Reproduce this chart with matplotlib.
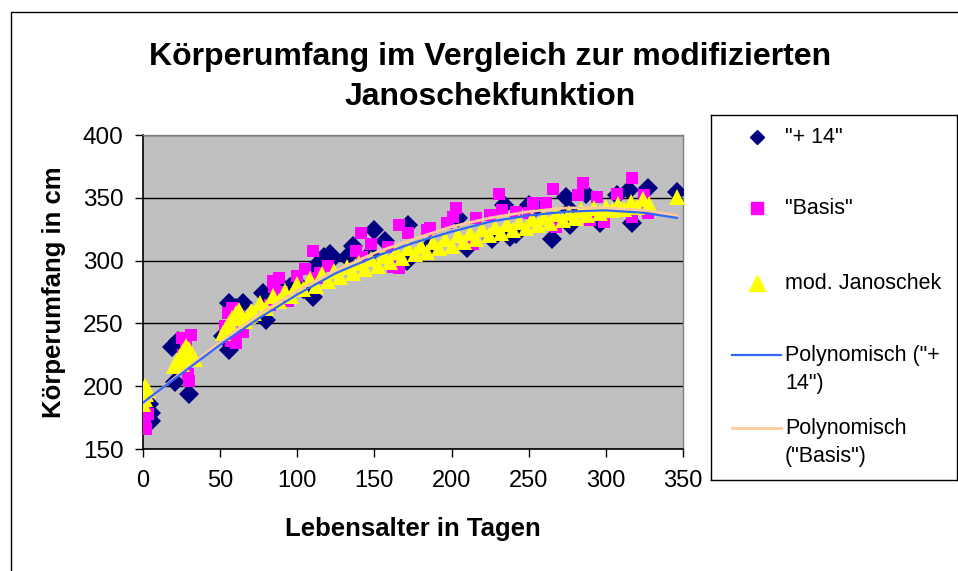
import matplotlib
matplotlib.use("Agg")
import matplotlib.pyplot as plt
from matplotlib.patches import Rectangle

plt.rcParams['font.family'] = ['Liberation Sans', 'DejaVu Sans']

title = "Körperumfang im Vergleich zur modifizierten\nJanoschekfunktion"
xlabel = "Lebensalter in Tagen"
ylabel = "Körperumfang in cm"
xticks = [0, 50, 100, 150, 200, 250, 300, 350]
yticks = [150, 200, 250, 300, 350, 400]

# "+ 14" (navy diamonds)
plus14_x = [4, 5, 5, 1, 19, 21, 30, 23, 56, 65, 56, 60, 52, 78, 80, 88, 95,
            104, 110, 117, 121, 112,
            123, 132, 136, 150, 157, 172, 204, 210, 226, 234, 238, 250, 265,
            274, 277, 287, 296, 315, 327, 317, 346, 307, 147, 171, 186, 242,
            255, 277]
plus14_y = [186, 179, 172, 178, 231, 203, 194, 236, 266, 266, 229, 262, 240,
            274, 253, 281, 279, 277, 271, 303, 305, 296,
            302, 303, 312, 324, 316, 328, 334, 310, 317, 344, 319, 344, 317,
            351, 328, 353, 330, 356, 358, 330, 355, 352, 305, 300, 312, 321,
            343, 340]

# "Basis" (magenta squares)
basis_x = [0, 0, 1, 0, 1, 2, 3, 25, 28, 31, 26, 29, 30, 24, 55, 58, 62, 65, 57,
           60, 53, 84, 88, 85, 90, 82, 94, 110, 105, 115, 113, 120, 100,
           141, 148, 166, 203, 231, 266, 285, 317, 307, 282, 294, 325, 201,
           184, 216, 253, 261, 290, 299, 317, 327, 268, 214, 162, 166, 138,
           142, 159, 172, 186, 197, 225, 233, 242, 250]
basis_y = [198, 190, 182, 175, 170, 166, 178, 238, 233, 241, 225, 210, 204,
           217, 258, 262, 256, 243, 236, 234, 248, 284, 286, 279, 275, 265,
           268, 308, 293, 290, 286, 296, 288,
           322, 313, 328, 342, 353, 357, 362, 366, 353, 352, 351, 352, 335,
           324, 334, 346, 346, 332, 331, 335, 338, 327, 313, 295, 294, 308,
           303, 311, 322, 326, 330, 336, 340, 339, 338]

# mod. Janoschek (yellow triangles)
jan_x = [0, 1, 2, 3, 1, 20, 22, 24, 26, 28, 30, 32, 34, 25, 29,
         52, 54, 56, 58, 60, 62, 64, 66, 68, 70,
         72, 76, 80, 84, 88, 92, 96, 100, 104, 108, 112, 116, 120, 124, 128,
         132, 136, 140, 144, 148, 152, 156, 160, 164, 168, 172, 176, 180, 184,
         188, 192, 196, 200, 204, 208, 212, 216, 220, 224, 228, 232, 236, 240,
         244, 248, 252, 256, 260, 264, 268, 272, 276, 280, 284, 288, 292, 296,
         300, 304, 308, 312, 316, 320, 324, 328, 346]
jan_y = [186, 190, 194, 197, 200, 216, 220, 224, 228, 232, 230, 226, 222, 218,
         222, 242, 246, 250, 254, 258, 261, 256, 252, 256, 260,
         258, 266, 262, 272, 268, 276, 272, 281, 277, 285, 280, 289, 284, 292,
         287, 295, 290, 298, 293, 301, 296, 304, 299, 307, 302, 310, 305, 312,
         307, 315, 310, 317, 312, 320, 315, 322, 317, 325, 320, 327, 322, 329,
         324, 331, 326, 333, 328, 335, 330, 337, 332, 338, 334, 340, 336, 342,
         338, 343, 340, 345, 341, 347, 343, 349, 345, 351]

# Polynomial trend lines
trend_x = [0, 25, 50, 75, 100, 125, 150, 175, 200, 225, 250, 275, 300, 325, 346]
trend_plus14 = [187, 210, 233, 254, 273, 290, 303, 314, 323, 331, 336, 339,
                340, 338, 334]
trend_basis = [186, 211, 235, 257, 276, 292, 306, 317, 327, 334, 339, 342,
               342, 340, 336]

W, H = 958, 571
fig = plt.figure(figsize=(W / 100, H / 100), dpi=100)

# outer chart border
fig.patches.append(Rectangle((11 / W, -0.1), 1.2, 1 - 12 / H + 0.1,
                             transform=fig.transFigure, fill=False,
                             edgecolor='black', linewidth=1.0))

ax = fig.add_axes([143 / W, 1 - 449 / H, (683 - 143) / W, (449 - 135) / H])
ax.set_facecolor('#C0C0C0')
ax.set_xlim(0, 350)
ax.set_ylim(150, 400)
ax.set_xticks(xticks)
ax.set_yticks(yticks)
ax.yaxis.grid(True, color='black', linewidth=1.0)
ax.set_axisbelow(True)
for s in ['top', 'right']:
    ax.spines[s].set_color('#808080')
    ax.spines[s].set_linewidth(1.0)
for s in ['left', 'bottom']:
    ax.spines[s].set_color('black')
    ax.spines[s].set_linewidth(1.2)
ax.tick_params(axis='both', direction='out', length=6, width=1,
               colors='black')
ax.tick_params(axis='y', pad=8, labelsize=17.5)
ax.tick_params(axis='x', pad=9, labelsize=17)

navy = '#000080'
magenta = '#FF00FF'
yellow = '#FFFF00'
blue = '#3366FF'
peach = '#FFCC99'

ax.plot(plus14_x, plus14_y, linestyle='none', marker='D', markersize=10,
        color=navy, markeredgewidth=0, zorder=3)
ax.plot(basis_x, basis_y, linestyle='none', marker='s', markersize=9,
        color=magenta, markeredgewidth=0, zorder=4)
ax.plot(jan_x, jan_y, linestyle='none', marker='^', markersize=11,
        color=yellow, markeredgewidth=0, zorder=5)
ax.plot(trend_x, trend_basis, color=peach, linewidth=2, zorder=6)
ax.plot(trend_x, trend_plus14, color=blue, linewidth=1.6, zorder=7)

ax.set_xlabel(xlabel, fontsize=18.5, fontweight='bold', labelpad=18)
ax.set_ylabel(ylabel, fontsize=18.5, fontweight='bold', labelpad=12)

fig.text(490 / W, 1 - 77 / H, title, ha='center', va='center',
         fontsize=23, fontweight='bold', linespacing=1.42)

# legend box
lx0, ly0, lx1, ly1 = 711, 115, 957, 480
lax = fig.add_axes([lx0 / W, 1 - ly1 / H, (lx1 - lx0) / W, (ly1 - ly0) / H])
lax.set_xlim(lx0, lx1)
lax.set_ylim(ly1, ly0)
lax.set_xticks([])
lax.set_yticks([])
lax.set_facecolor('white')
for s in lax.spines.values():
    s.set_color('black')
    s.set_linewidth(1.0)
fs = 15.5
lax.plot([757], [137], marker='D', markersize=7, color=navy, linestyle='none')
lax.text(785, 137, '"+ 14"', va='center', fontsize=fs)
lax.plot([757], [208], marker='s', markersize=8, color=magenta, linestyle='none')
lax.text(785, 208, '"Basis"', va='center', fontsize=fs)
lax.plot([757], [283], marker='^', markersize=11, color=yellow, linestyle='none')
lax.text(785, 283, 'mod. Janoschek', va='center', fontsize=fs)
lax.plot([732, 781], [355, 355], color=blue, linewidth=1.6)
lax.text(785, 355, 'Polynomisch ("+', va='center', fontsize=fs)
lax.text(785, 383, '14")', va='center', fontsize=fs)
lax.plot([732, 781], [428, 428], color=peach, linewidth=2)
lax.text(785, 428, 'Polynomisch', va='center', fontsize=fs)
lax.text(785, 456, '("Basis")', va='center', fontsize=fs)

fig.savefig('out.png', dpi=100)
